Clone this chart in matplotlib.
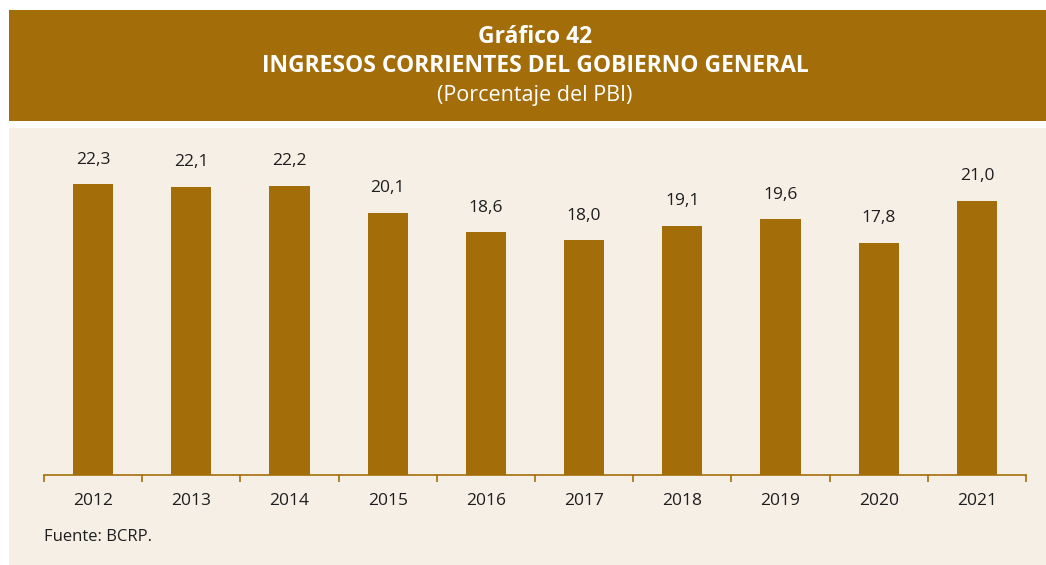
import matplotlib.pyplot as plt
from matplotlib.patches import Rectangle

# data
years = ['2012', '2013', '2014', '2015', '2016', '2017', '2018', '2019', '2020', '2021']
ingresos = [22.3, 22.1, 22.2, 20.1, 18.6, 18.0, 19.1, 19.6, 17.8, 21.0]

brown = '#A36E09'
beige = '#F5EFE6'
txt = '#1E1E1E'

plt.rcParams['font.family'] = ['Open Sans', 'DejaVu Sans']

fig = plt.figure(figsize=(10.46, 5.65), dpi=100)
fig.patch.set_facecolor('white')

# header band and panel background
W, H = 1046, 565
fig.patches.append(Rectangle((9 / W, 1 - 121 / H), 1, 111 / H, transform=fig.transFigure,
                             facecolor=brown, edgecolor='none', zorder=-2))
fig.patches.append(Rectangle((9 / W, 0), 1, 1 - 128 / H, transform=fig.transFigure,
                             facecolor=beige, edgecolor='none', zorder=-2))

cx = 535 / W
fig.text(cx, 1 - 37 / H, 'Gráfico 42', ha='center', va='center', color='white',
         fontsize=16.5, fontweight='bold')
fig.text(cx, 1 - 66 / H, 'INGRESOS CORRIENTES DEL GOBIERNO GENERAL', ha='center', va='center',
         color='white', fontsize=16.5, fontweight='bold')
fig.text(cx, 1 - 95 / H, '(Porcentaje del PBI)', ha='center', va='center', color='white',
         fontsize=15.5)

ax = fig.add_axes([44 / W, (H - 475) / H, (1026 - 44) / W, 326 / H])
ax.set_facecolor('none')

x = list(range(len(years)))
ax.bar(x, ingresos, width=0.41, color=brown, zorder=2)

for xi, v in zip(x, ingresos):
    ax.annotate(f'{v:.1f}'.replace('.', ','), (xi, v), xytext=(0, 12), textcoords='offset points',
                ha='center', va='bottom', fontsize=12.5, color=txt)

ax.set_xlim(-0.5, len(years) - 0.5)
ax.set_ylim(0, 25)
ax.set_xticks(x)
ax.set_xticklabels(years, fontsize=12.5, color=txt)
ax.tick_params(axis='x', which='major', length=0, pad=13)
ax.set_xticks([i - 0.5 for i in range(len(years) + 1)], minor=True)
ax.tick_params(axis='x', which='minor', length=5, width=1.2, color=brown, direction='out')
ax.set_yticks([])
for s in ['top', 'right', 'left']:
    ax.spines[s].set_visible(False)
ax.spines['bottom'].set_color(brown)
ax.spines['bottom'].set_linewidth(1.2)

fig.text(44 / W, 1 - 537 / H, 'Fuente: BCRP.', ha='left', va='center', fontsize=12, color=txt)

fig.savefig('out.png', dpi=100)
